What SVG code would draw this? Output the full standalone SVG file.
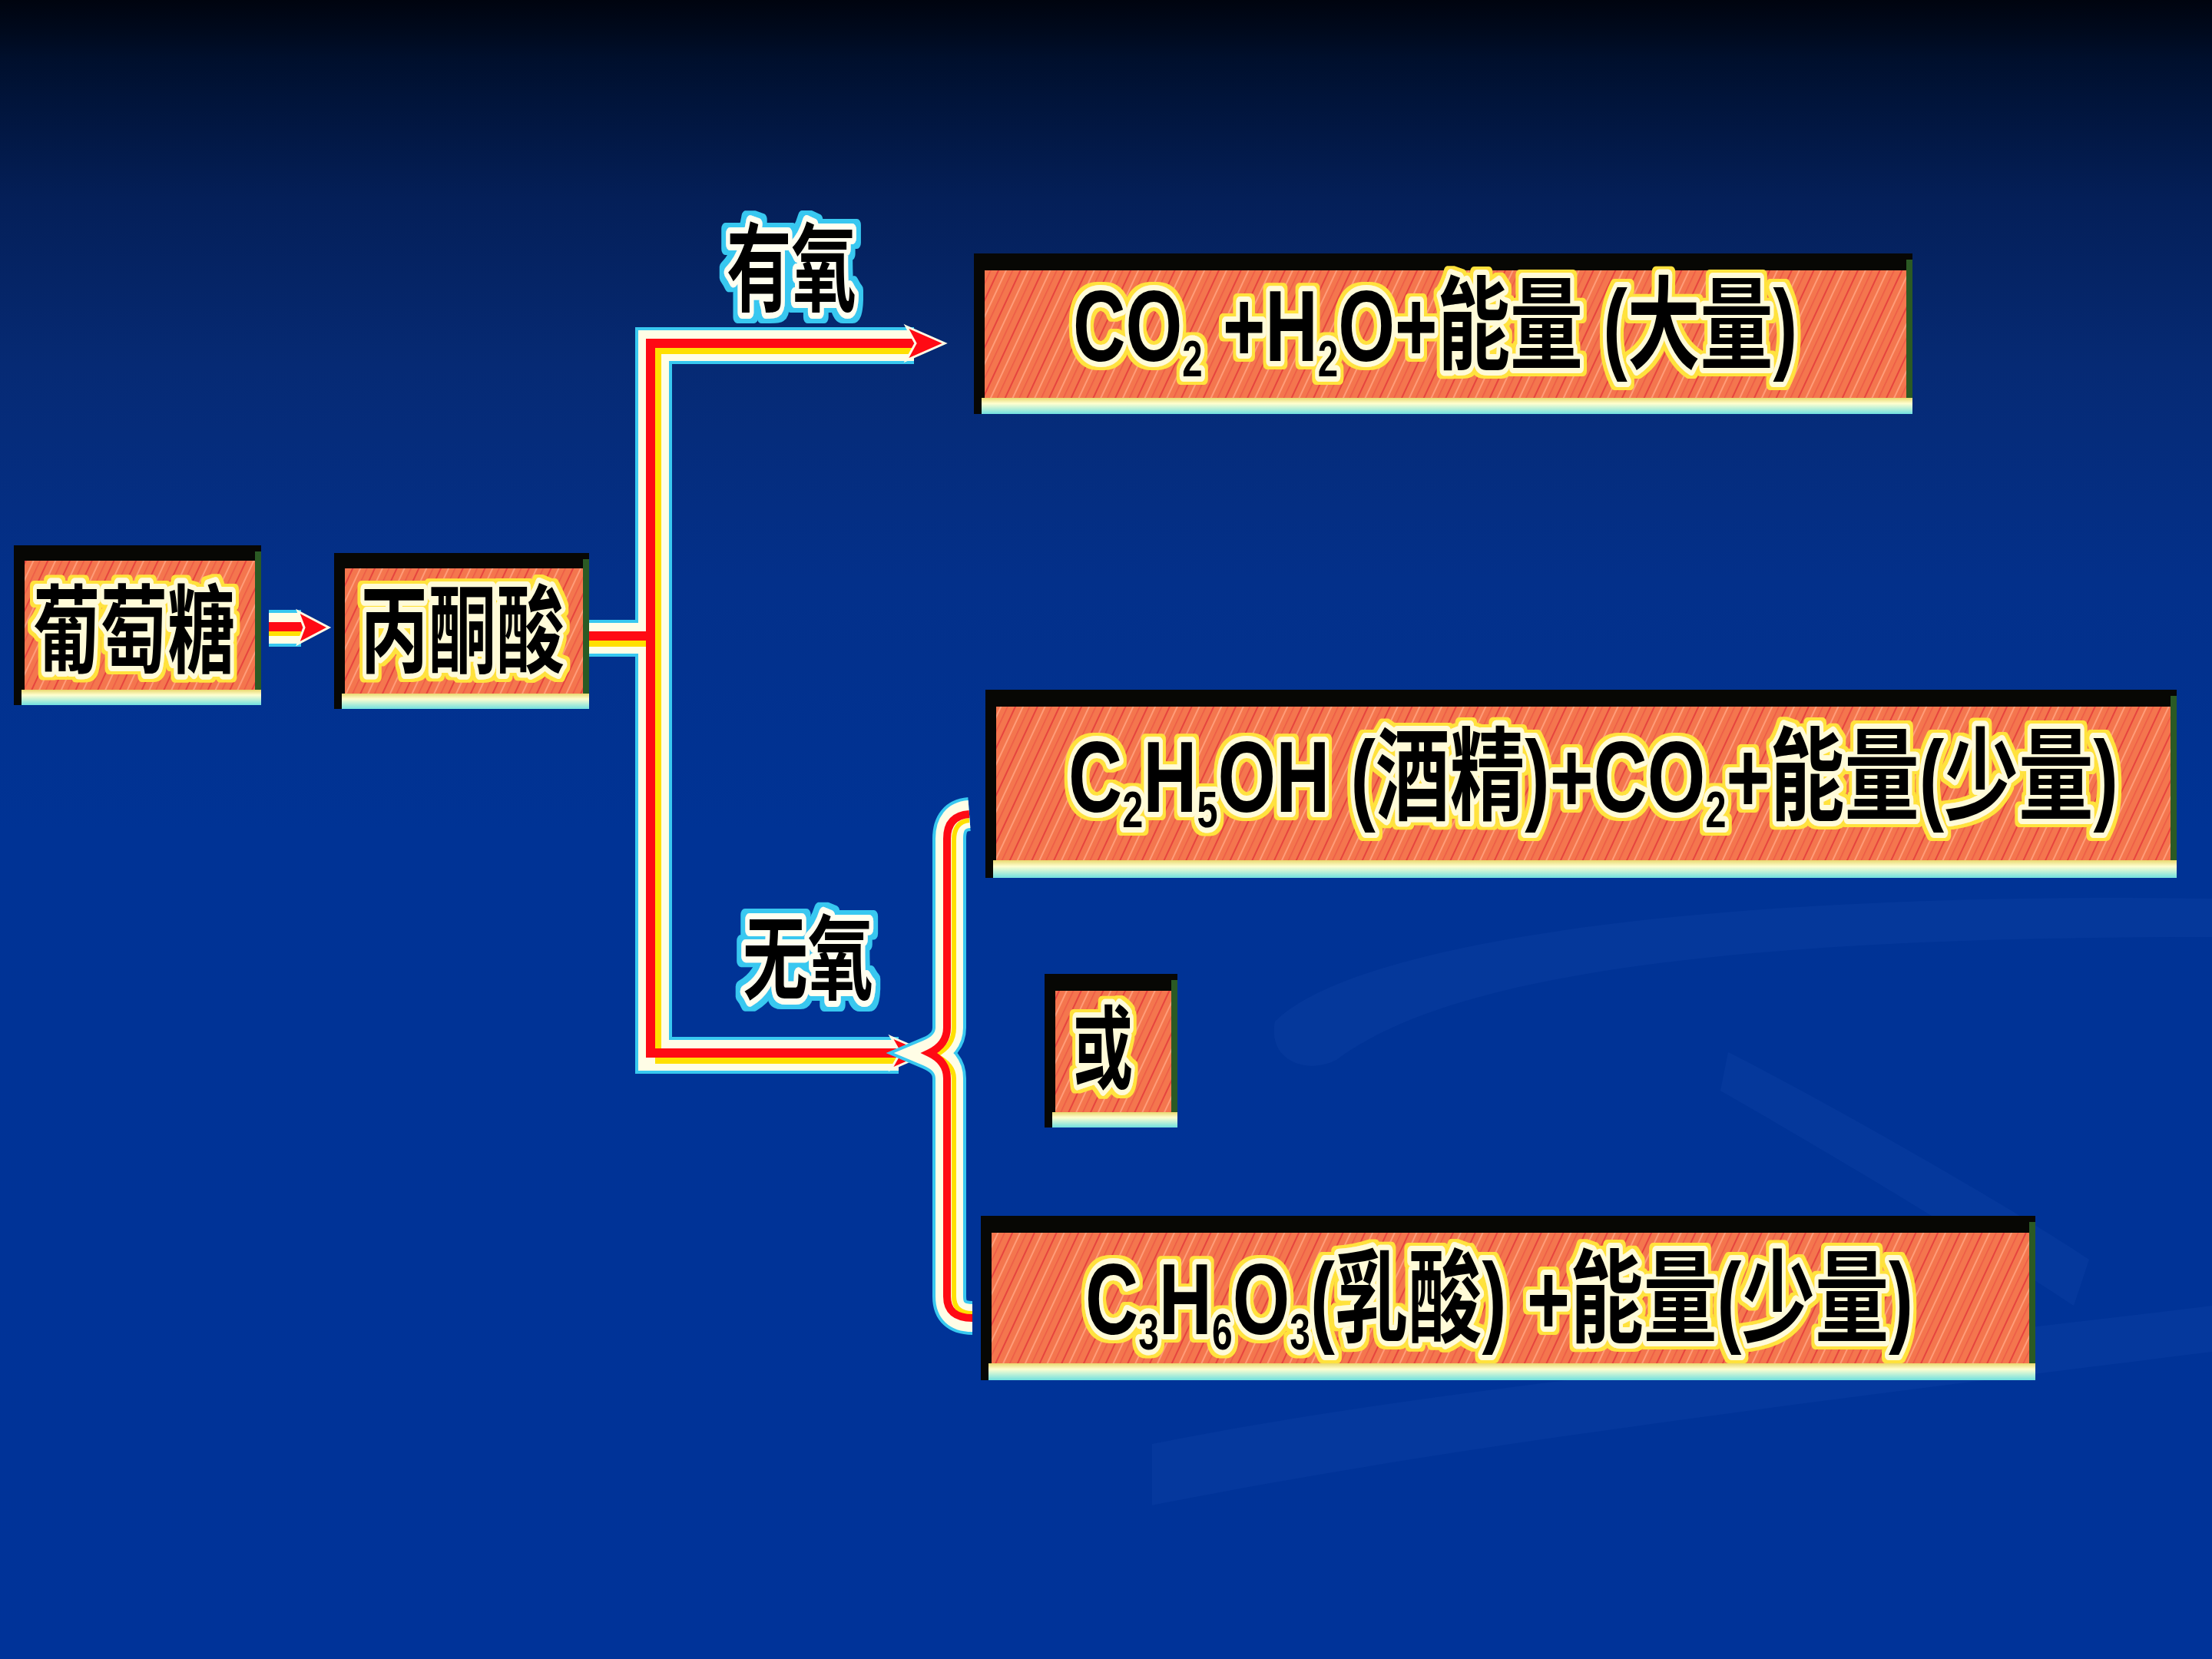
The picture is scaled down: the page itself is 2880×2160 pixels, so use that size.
<svg xmlns="http://www.w3.org/2000/svg" width="2880" height="2160" viewBox="0 0 2880 2160">
<defs>
<linearGradient id="bg" x1="0" y1="0" x2="0" y2="1">
<stop offset="0" stop-color="#00040f"/>
<stop offset="0.02" stop-color="#000a1e"/>
<stop offset="0.035" stop-color="#000f2c"/>
<stop offset="0.06" stop-color="#01143a"/>
<stop offset="0.12" stop-color="#041f58"/>
<stop offset="0.22" stop-color="#062a74"/>
<stop offset="0.35" stop-color="#03308a"/>
<stop offset="0.5" stop-color="#003395"/>
<stop offset="1" stop-color="#003399"/>
</linearGradient>
<linearGradient id="band" x1="0" y1="0" x2="0" y2="1">
<stop offset="0" stop-color="#e8d870"/>
<stop offset="0.35" stop-color="#ffffd0"/>
<stop offset="1" stop-color="#70e0e0"/>
</linearGradient>
<pattern id="hatch" width="26" height="26" patternUnits="userSpaceOnUse" patternTransform="rotate(25)">
<rect width="26" height="26" fill="#f4764e"/>
<rect width="2" height="26" fill="#e6443e"/>
<rect x="9" width="2" height="26" fill="#ff9c78"/>
<rect x="17" width="1.5" height="26" fill="#ec5a46"/>
</pattern>
<filter id="glowY" filterUnits="userSpaceOnUse" x="0" y="0" width="2880" height="2160">
<feMorphology in="SourceAlpha" operator="dilate" radius="4" result="d"/>
<feFlood flood-color="#ffe23c"/>
<feComposite in2="d" operator="in" result="g"/>
<feMerge><feMergeNode in="g"/><feMergeNode in="SourceGraphic"/></feMerge>
</filter>
<filter id="glowC" filterUnits="userSpaceOnUse" x="0" y="0" width="2880" height="2160">
<feMorphology in="SourceAlpha" operator="dilate" radius="6" result="d"/>
<feFlood flood-color="#38c8f0"/>
<feComposite in2="d" operator="in" result="g"/>
<feMerge><feMergeNode in="g"/><feMergeNode in="SourceGraphic"/></feMerge>
</filter>
<style>
.frame{fill:#070704}
.edge{fill:#2b5a24}
.face{fill:url(#hatch)}
.band{fill:url(#band)}
.t{font-family:"Liberation Sans","Noto Sans CJK SC",sans-serif;font-weight:700;fill:#000;stroke:#fffbd8;stroke-width:14;stroke-linejoin:round;paint-order:stroke;filter:url(#glowY)}
.lab{font-family:"Noto Sans CJK SC",sans-serif;font-weight:700;fill:#000;stroke:#fffff0;stroke-width:16;stroke-linejoin:round;paint-order:stroke;filter:url(#glowC)}
.gc{fill:none;stroke:#38c8f0;stroke-width:48;stroke-linejoin:miter}
.gw{fill:none;stroke:#fffde6;stroke-width:40;stroke-linejoin:miter}
.gy{fill:none;stroke:#ffe000;stroke-width:8;stroke-linejoin:miter}
.gr{fill:none;stroke:#ff0a14;stroke-width:12;stroke-linejoin:miter}
.head{fill:#ff0a14;stroke:#fffde6;stroke-width:3}
</style>
</defs>
<rect width="2880" height="2160" fill="url(#bg)"/>
<g id="swooshes" fill="#2a5cc0" opacity="0.13">
<path d="M1660 1330 C1760 1230 2200 1160 2880 1170 L2880 1220 C2300 1220 1900 1260 1740 1380 C1700 1400 1650 1380 1660 1330 Z"/>
<path d="M2250 1370 C2350 1420 2600 1560 2720 1640 L2700 1700 C2580 1620 2380 1500 2240 1420 Z"/>
<path d="M1500 1880 C1900 1800 2400 1760 2880 1700 L2880 1760 C2400 1820 1900 1880 1500 1960 Z"/>
</g>
<g id="connectors">
<path class="gc" d="M1190 450 H851 V1374 H1170 M766 831 H851"/>
<path class="gw" d="M1190 450 H851 V1374 H1170 M766 831 H851"/>
<path class="gy" d="M1190 457 H857 V1381 H1170 M766 838 H851"/>
<path class="gr" d="M1190 447 H847 V1371 H1170 M766 828 H847"/>
<path class="gc" d="M350 818 H392"/>
<path class="gw" d="M350 818 H392"/>
<path class="gy" d="M350 824 H392"/>
<path class="gr" d="M350 816 H394"/>
<polygon class="head" points="388,796 428,817 388,838 396,817"/>
<polygon class="head" points="1180,425 1230,447 1180,469 1192,447"/>
<polygon class="head" points="1160,1350 1208,1371 1160,1392 1172,1371"/>
<path class="gc" style="stroke-width:44" d="M1262 1060 Q1236 1062 1236 1092 V1338 Q1236 1360 1210 1371 Q1236 1382 1236 1404 V1688 Q1236 1716 1266 1716"/>
<path class="gw" style="stroke-width:36" d="M1262 1060 Q1236 1062 1236 1092 V1338 Q1236 1360 1210 1371 Q1236 1382 1236 1404 V1688 Q1236 1716 1266 1716"/>
<path class="gy" style="stroke-width:6" d="M1262 1068 Q1242 1070 1242 1094 V1338 Q1242 1362 1218 1374 Q1242 1386 1242 1404 V1688 Q1242 1710 1266 1710"/>
<path class="gr" style="stroke-width:10" d="M1262 1060 Q1233 1062 1233 1092 V1338 Q1233 1360 1210 1371 Q1233 1382 1233 1404 V1688 Q1233 1716 1266 1716"/>
</g>
<g id="n-glucose">
<rect class="frame" x="18" y="710" width="322" height="208"/>
<rect class="edge" x="332" y="718" width="8" height="200"/>
<rect class="face" x="32" y="730" width="300" height="170"/>
<rect class="band" x="28" y="898" width="312" height="20"/>
<text class="t" x="43" y="866" font-size="125" textLength="263" lengthAdjust="spacingAndGlyphs">葡萄糖</text>
</g>
<g id="n-pyruvate">
<rect class="frame" x="435" y="720" width="332" height="203"/>
<rect class="edge" x="759" y="728" width="8" height="195"/>
<rect class="face" x="449" y="740" width="310" height="165"/>
<rect class="band" x="445" y="903" width="322" height="20"/>
<text class="t" x="469" y="866" font-size="125" textLength="266" lengthAdjust="spacingAndGlyphs">丙酮酸</text>
</g>
<g id="l-aerobic">
<text class="lab" x="946" y="395" font-size="125" textLength="169" lengthAdjust="spacingAndGlyphs">有氧</text>
</g>
<g id="l-anaerobic">
<text class="lab" x="967" y="1292" font-size="120" textLength="170" lengthAdjust="spacingAndGlyphs">无氧</text>
</g>
<g id="n-aerobic">
<rect class="frame" x="1268" y="330" width="1222" height="209"/>
<rect class="edge" x="2482" y="338" width="8" height="201"/>
<rect class="face" x="1282" y="352" width="1200" height="166"/>
<rect class="band" x="1278" y="518" width="1212" height="21"/>
<text class="t" x="1397" y="470" font-size="132" textLength="943" lengthAdjust="spacingAndGlyphs">CO<tspan font-size="66" dy="20">2</tspan><tspan dy="-20"> +H</tspan><tspan font-size="66" dy="20">2</tspan><tspan dy="-20">O+能量 (大量)</tspan></text>
</g>
<g id="n-alcohol">
<rect class="frame" x="1283" y="898" width="1551" height="245"/>
<rect class="edge" x="2826" y="906" width="8" height="237"/>
<rect class="face" x="1297" y="920" width="1529" height="200"/>
<rect class="band" x="1293" y="1120" width="1541" height="23"/>
<text class="t" x="1391" y="1057" font-size="132" textLength="1367" lengthAdjust="spacingAndGlyphs">C<tspan font-size="66" dy="20">2</tspan><tspan dy="-20">H</tspan><tspan font-size="66" dy="20">5</tspan><tspan dy="-20">OH (酒精)+CO</tspan><tspan font-size="66" dy="20">2</tspan><tspan dy="-20">+能量(少量)</tspan></text>
</g>
<g id="n-or">
<rect class="frame" x="1360" y="1268" width="173" height="200"/>
<rect class="edge" x="1525" y="1276" width="8" height="192"/>
<rect class="face" x="1374" y="1290" width="151" height="158"/>
<rect class="band" x="1370" y="1448" width="163" height="20"/>
<text class="t" x="1397" y="1408" font-size="118" textLength="78" lengthAdjust="spacingAndGlyphs">或</text>
</g>
<g id="n-lactic">
<rect class="frame" x="1277" y="1583" width="1373" height="214"/>
<rect class="edge" x="2642" y="1591" width="8" height="206"/>
<rect class="face" x="1291" y="1605" width="1351" height="170"/>
<rect class="band" x="1287" y="1775" width="1363" height="22"/>
<text class="t" x="1413" y="1737" font-size="132" textLength="1078" lengthAdjust="spacingAndGlyphs">C<tspan font-size="66" dy="20">3</tspan><tspan dy="-20">H</tspan><tspan font-size="66" dy="20">6</tspan><tspan dy="-20">O</tspan><tspan font-size="66" dy="20">3</tspan><tspan dy="-20">(乳酸) +能量(少量)</tspan></text>
</g>
</svg>
